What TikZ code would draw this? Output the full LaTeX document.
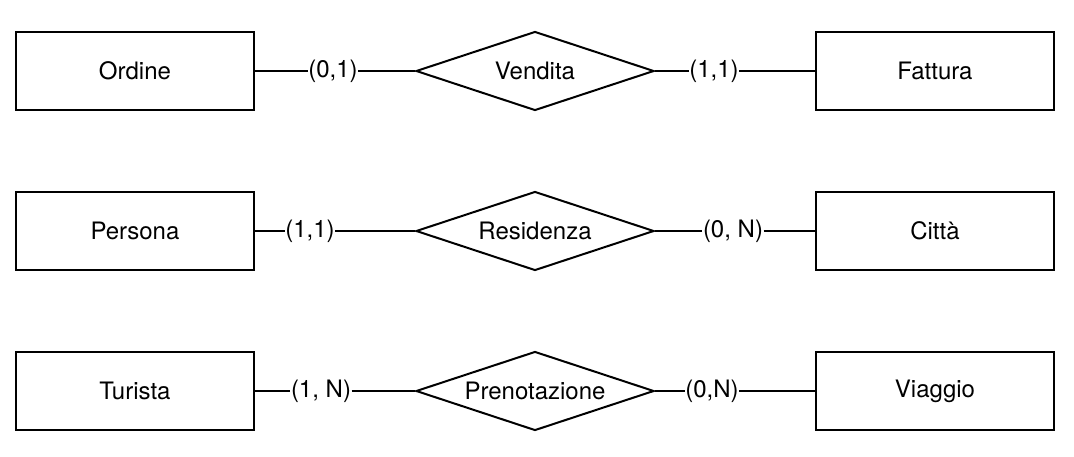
\documentclass[tikz,border=0pt]{standalone}
\usepackage{fontspec}
\setmainfont{TeX Gyre Heros}
\usetikzlibrary{positioning,shapes.geometric}
\tikzset{
  ent/.style={rectangle,draw,line width=2pt,minimum width=238pt,minimum height=78pt,inner sep=0pt},
  rel/.style={diamond,draw,line width=2pt,aspect=3,minimum width=238pt,minimum height=79pt,inner sep=0pt},
  card/.style={inner sep=0.5pt},
  ln/.style={line width=2pt}
}

\begin{document}
\begin{tikzpicture}[x=1pt,y=-1pt,font=\fontsize{24}{28}\selectfont]
\useasboundingbox (0,0) rectangle (1074,456);
% Vendita
\node[ent] (ord) at (135,71) {Ordine};
\node[rel] (ven) at (535,71) {Vendita};
\node[ent] (fat) at (935,71) {Fattura};
\node[card] (c1) at (333,71) {(0,1)};
\node[card] (c2) at (714,71) {(1,1)};
\draw[ln] (ord) -- (c1); \draw[ln] (c1) -- (ven);
\draw[ln] (ven) -- (c2); \draw[ln] (c2) -- (fat);
% Residenza
\node[ent] (per) at (135,231) {Persona};
\node[rel] (res) at (535,231) {Residenza};
\node[ent] (cit) at (935,231) {Città};
\node[card] (c3) at (310,231) {(1,1)};
\node[card] (c4) at (733,231) {(0, N)};
\draw[ln] (per) -- (c3); \draw[ln] (c3) -- (res);
\draw[ln] (res) -- (c4); \draw[ln] (c4) -- (cit);
% Prenotazione
\node[ent] (tur) at (135,391) {Turista};
\node[rel] (pre) at (535,391) {Prenotazione};
\node[ent] (via) at (935,391) {Viaggio};
\node[card] (c5) at (321,391) {(1, N)};
\node[card] (c6) at (712,391) {(0,N)};
\draw[ln] (tur) -- (c5); \draw[ln] (c5) -- (pre);
\draw[ln] (pre) -- (c6); \draw[ln] (c6) -- (via);
\end{tikzpicture}
\end{document}
